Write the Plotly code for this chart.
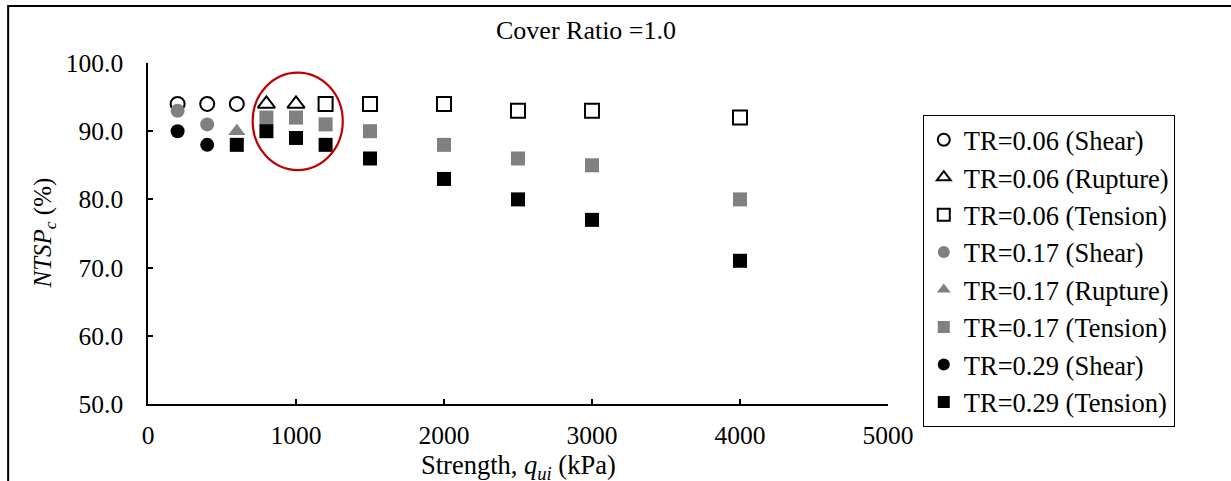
import plotly.graph_objects as go

# Unconfined strength (kPa) and normalised thrust/shear capacity NTSP_c (%)
tr006_shear_x = [200, 400, 600]
tr006_shear_y = [94, 94, 94]
tr006_rupture_x = [800, 1000]
tr006_rupture_y = [94, 94]
tr006_tension_x = [1200, 1500, 2000, 2500, 3000, 4000]
tr006_tension_y = [94, 94, 94, 93, 93, 92]

tr017_shear_x = [200, 400]
tr017_shear_y = [93, 91]
tr017_rupture_x = [600]
tr017_rupture_y = [90]
tr017_tension_x = [800, 1000, 1200, 1500, 2000, 2500, 3000, 4000]
tr017_tension_y = [92, 92, 91, 90, 88, 86, 85, 80]

tr029_shear_x = [200, 400]
tr029_shear_y = [90, 88]
tr029_tension_x = [600, 800, 1000, 1200, 1500, 2000, 2500, 3000, 4000]
tr029_tension_y = [88, 90, 89, 88, 86, 83, 80, 77, 71]

FONT = "Liberation Serif, Times New Roman, serif"
GRAY = "#808080"

series = [
    ("TR=0.06 (Shear)", tr006_shear_x, tr006_shear_y, "circle-open", "black"),
    ("TR=0.06 (Rupture)", tr006_rupture_x, tr006_rupture_y, "triangle-up-open", "black"),
    ("TR=0.06 (Tension)", tr006_tension_x, tr006_tension_y, "square-open", "black"),
    ("TR=0.17 (Shear)", tr017_shear_x, tr017_shear_y, "circle", GRAY),
    ("TR=0.17 (Rupture)", tr017_rupture_x, tr017_rupture_y, "triangle-up", GRAY),
    ("TR=0.17 (Tension)", tr017_tension_x, tr017_tension_y, "square", GRAY),
    ("TR=0.29 (Shear)", tr029_shear_x, tr029_shear_y, "circle", "black"),
    ("TR=0.29 (Tension)", tr029_tension_x, tr029_tension_y, "square", "black"),
]

fig = go.Figure()
for name, xs, ys, sym, col in series:
    is_open = sym.endswith("open")
    fig.add_trace(go.Scatter(
        x=xs, y=ys, mode="markers", name=name,
        marker=dict(symbol=sym, size=14 if "triangle" not in sym else 15, color=col,
                    line=dict(color=col, width=2 if is_open else 0)),
    ))

axis_common = dict(
    showgrid=False, zeroline=False, showline=True, linecolor="black",
    linewidth=1.5, ticks="inside", ticklen=5, tickwidth=1.5, tickcolor="black",
    tickfont=dict(family=FONT, size=25.5, color="black"),
)

fig.update_xaxes(range=[0, 5000], dtick=1000, tick0=0, ticklabelstandoff=8, **axis_common)
fig.update_yaxes(range=[50, 100], dtick=10, tick0=50, tickformat=".1f",
                 ticklabelstandoff=18, **axis_common)

fig.update_layout(
    width=1231, height=481,
    margin=dict(l=148, r=343, t=63, b=77),
    paper_bgcolor="white", plot_bgcolor="white",
    font=dict(family=FONT, size=26, color="black"),
    showlegend=True,
    legend=dict(
        x=1.047, y=0.8475, xanchor="left", yanchor="top",
        bordercolor="black", borderwidth=1, bgcolor="white",
        font=dict(family=FONT, size=26.5, color="black"),
        itemsizing="constant", tracegroupgap=0, itemwidth=30,
    ),
    annotations=[
        dict(text="Cover Ratio =1.0", x=0.592, y=1.094, xref="paper", yref="paper",
             showarrow=False, xanchor="center", yanchor="middle",
             font=dict(family=FONT, size=26, color="black")),
        dict(text="Strength, <i>q</i><sub><i>ui</i></sub> (kPa)", x=0.5, y=-0.185,
             xref="paper", yref="paper", showarrow=False, xanchor="center",
             yanchor="middle", font=dict(family=FONT, size=26.5, color="black")),
        dict(text="<i>NTSP</i><sub><i>c</i></sub> (%)", x=-0.1405, y=0.5,
             xref="paper", yref="paper", showarrow=False, xanchor="center",
             yanchor="middle", textangle=-90,
             font=dict(family=FONT, size=25, color="black")),
    ],
    shapes=[
        # highlight ring around the rupture transition
        dict(type="circle", xref="x", yref="y", x0=707, x1=1316, y0=84.3, y1=98.6,
             line=dict(color="#C00000", width=2.2)),
        # outer chart frame
        dict(type="rect", xref="paper", yref="paper", x0=-0.189, x1=1.5,
             y0=-0.3, y1=1.167, line=dict(color="black", width=2), layer="above"),
    ],
)

fig.write_html("out.html")
